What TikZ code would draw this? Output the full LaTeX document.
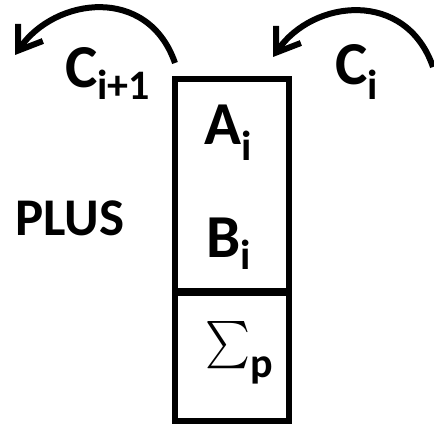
\documentclass[tikz,border=0pt]{standalone}
\usepackage{fontspec}
\setmainfont{Carlito}
\usetikzlibrary{arrows.meta}
\newcommand\lowidx[2][13pt]{\raisebox{-#1}{\fontsize{42}{42}\selectfont #2}}

\begin{document}
\begin{tikzpicture}[x=1pt,y=1pt,font=\bfseries\fontsize{61}{61}\selectfont,
  cell/.style={draw=black,line width=6pt,minimum width=113.5pt,inner sep=0pt,outer sep=0pt},
  carry/.style={line width=6pt,-{Straight Barb[length=22pt,width=30pt,line width=6pt]}},
  letter/.style={inner sep=0pt,anchor=base west}]
\useasboundingbox (0,0) rectangle (434,425);
% adder cell
\node[cell,minimum height=212pt] (upper) at (231.75,240) {};
\node[cell,minimum height=128pt] (lower) at (231.75,68) {};
\node[letter] (a) at (204,280) {A\lowidx[16pt]{i}};
\node[letter] (b) at (206,167) {B\lowidx[12pt]{i}};
\node[letter] (sum) at (205,50) {\raisebox{\depth}{\resizebox*{45pt}{53pt}{$\textstyle\sum$}}\lowidx[3pt]{p}};
\node[letter,font=\bfseries\fontsize{53}{53}\selectfont] (plus) at (15,189) {PLUS};
% carries
\node[letter] (cout) at (65,337) {C\lowidx[12pt]{i+1}};
\node[letter] (cin) at (335,340) {C\lowidx[15pt]{i}};
\coordinate (coutstart) at (175,362); \coordinate (couttip) at (15,370);
\coordinate (cinstart) at (433,358); \coordinate (cintip) at (273,368);
\draw[carry] (coutstart) .. controls (148,440) and (55,428) .. (couttip);
\draw[carry] (cinstart) .. controls (406,436) and (313,426) .. (cintip);
\end{tikzpicture}
\end{document}
